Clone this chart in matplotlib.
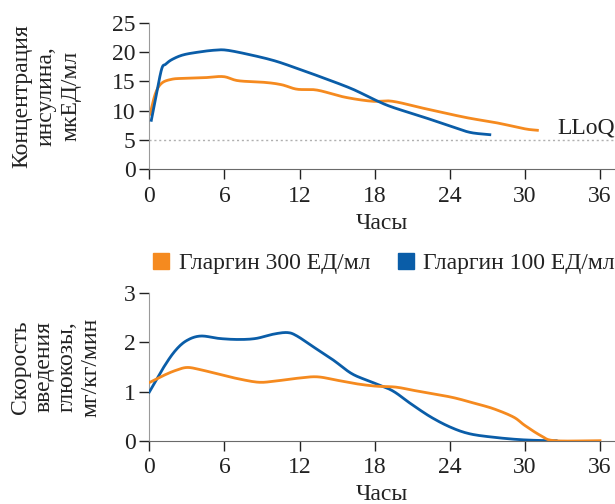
import numpy as np
import matplotlib
matplotlib.use("Agg")
import matplotlib.pyplot as plt
from matplotlib.lines import Line2D

plt.rcParams['font.family'] = ['Liberation Serif', 'DejaVu Serif']

ORANGE = '#F58A1F'
BLUE = '#0A5DA8'
TEXT = '#222222'
FS = 17

# Концентрация инсулина (верхний график)
t_conc_100 = [0.16, 0.6, 1.0, 1.3, 1.8, 2.7, 4.0, 5.2, 6.2, 8.1, 10.0, 11.8, 14.0, 16.2, 18.0,
              19.4, 21.9, 23.9, 25.6, 27.2]
conc_100 = [8.35, 13.2, 17.2, 17.9, 18.7, 19.5, 20.0, 20.3, 20.3, 19.5, 18.5, 17.2, 15.5, 13.7, 11.85,
            10.6, 8.9, 7.45, 6.3, 5.9]
t_conc_300 = [0.06, 0.5, 1.0, 1.8, 2.7, 4.3, 5.9, 7.1, 9.3, 10.6, 11.8, 13.4, 15.6, 17.8,
              19.4, 21.9, 23.8, 25.6, 27.8, 30.0, 31.0]
conc_300 = [9.4, 13.0, 14.7, 15.35, 15.5, 15.6, 15.8, 15.1, 14.8, 14.4, 13.65, 13.5, 12.3, 11.6,
            11.6, 10.4, 9.5, 8.7, 7.9, 6.9, 6.65]
LLOQ = 5

# Скорость введения глюкозы (нижний график)
t_gir_100 = [0.0, 1.16, 2.1, 3.0, 4.1, 5.6, 7.1, 8.5, 9.95, 11.05, 11.8, 13.1, 14.7, 16.2,
             17.8, 19.4, 20.9, 22.5, 24.1, 25.6, 27.5, 29.7, 31.9, 32.5]
gir_100 = [0.99, 1.5, 1.84, 2.04, 2.13, 2.08, 2.06, 2.08, 2.17, 2.2, 2.13, 1.91, 1.64, 1.36,
           1.19, 1.02, 0.75, 0.48, 0.27, 0.14, 0.07, 0.02, 0.0, 0.0]
t_gir_300 = [0.06, 1.16, 2.1, 3.0, 4.0, 5.6, 7.1, 8.7, 9.95, 11.8, 13.4, 15.0, 16.5, 18.1,
             19.7, 21.2, 22.8, 24.4, 26.0, 27.5, 29.1, 30.0, 31.3, 32.4, 36.0]
gir_300 = [1.19, 1.33, 1.43, 1.49, 1.45, 1.35, 1.26, 1.19, 1.21, 1.27, 1.30, 1.23, 1.16, 1.11,
           1.09, 1.02, 0.95, 0.87, 0.76, 0.65, 0.48, 0.31, 0.10, 0.0, 0.0]

x_ticks = [0, 6, 12, 18, 24, 30, 36]
labels = ['Гларгин 300 ЕД/мл', 'Гларгин 100 ЕД/мл']


def smooth(x, y, n=12):
    # Catmull-Rom только для плавной отрисовки по прочитанным точкам
    x = np.asarray(x, float)
    y = np.asarray(y, float)
    px = np.concatenate([[2 * x[0] - x[1]], x, [2 * x[-1] - x[-2]]])
    py = np.concatenate([[2 * y[0] - y[1]], y, [2 * y[-1] - y[-2]]])
    xs, ys = [], []
    s = np.linspace(0, 1, n, endpoint=False)
    for i in range(1, len(px) - 2):
        for p, out in ((px, xs), (py, ys)):
            p0, p1, p2, p3 = p[i - 1], p[i], p[i + 1], p[i + 2]
            out.extend(0.5 * (2 * p1 + (-p0 + p2) * s + (2 * p0 - 5 * p1 + 4 * p2 - p3) * s ** 2
                              + (-p0 + 3 * p1 - 3 * p2 + p3) * s ** 3))
    xs.append(x[-1])
    ys.append(y[-1])
    return np.array(xs), np.array(ys)


def style_axes(ax, ylim, yticks):
    ax.set_xlim(0, 37.2)
    ax.set_ylim(*ylim)
    ax.set_xticks(x_ticks)
    ax.set_yticks(yticks)
    for s in ('top', 'right'):
        ax.spines[s].set_visible(False)
    ax.spines['left'].set_color('#9a9a9a')
    ax.spines['bottom'].set_color('#6a6a6a')
    ax.tick_params(direction='out', length=7, width=1.0, color=TEXT,
                   labelsize=FS, labelcolor=TEXT, pad=3)
    ax.tick_params(axis='x', pad=5)
    ax.set_xlabel('Часы', fontsize=FS, color=TEXT, labelpad=4)


fig = plt.figure(figsize=(6.15, 5.04), dpi=100)

ax1 = fig.add_axes([0.2428, 0.6641, 0.7572, 0.291])
ax1.axhline(LLOQ, color='#b0b0b0', lw=1.0, ls=(0, (1.5, 2)), zorder=1)
ax1.plot(*smooth(t_conc_100, conc_100), color=BLUE, lw=2.0, zorder=3)
ax1.plot(*smooth(t_conc_300, conc_300), color=ORANGE, lw=2.0, zorder=2)
ax1.text(32.6, 7.0, 'LLoQ', fontsize=FS, color=TEXT, va='center', ha='left')
style_axes(ax1, (0, 25), [0, 5, 10, 15, 20, 25])
ax1.set_ylabel('Концентрация\nинсулина,\nмкЕД/мл', fontsize=FS, color=TEXT,
               linespacing=1.2, labelpad=22)

ax2 = fig.add_axes([0.2428, 0.1256, 0.7572, 0.2925])
ax2.plot(*smooth(t_gir_100, gir_100), color=BLUE, lw=2.0, zorder=3)
ax2.plot(*smooth(t_gir_300, gir_300), color=ORANGE, lw=2.0, zorder=3)
style_axes(ax2, (0, 3), [0, 1, 2, 3])
ax2.set_ylabel('Скорость\nвведения\nглюкозы,\nмг/кг/мин', fontsize=FS, color=TEXT,
               linespacing=1.15, labelpad=16)

handles = [Line2D([], [], marker='s', ls='none', color=c, markersize=11) for c in (ORANGE, BLUE)]
fig.legend(handles, labels, loc='center right', bbox_to_anchor=(1.027, 0.478), ncol=2,
           frameon=False, fontsize=FS, handletextpad=0.25, columnspacing=1.0,
           handlelength=1.0, labelcolor=TEXT, borderpad=0.2)

fig.savefig('out.png', dpi=100)
